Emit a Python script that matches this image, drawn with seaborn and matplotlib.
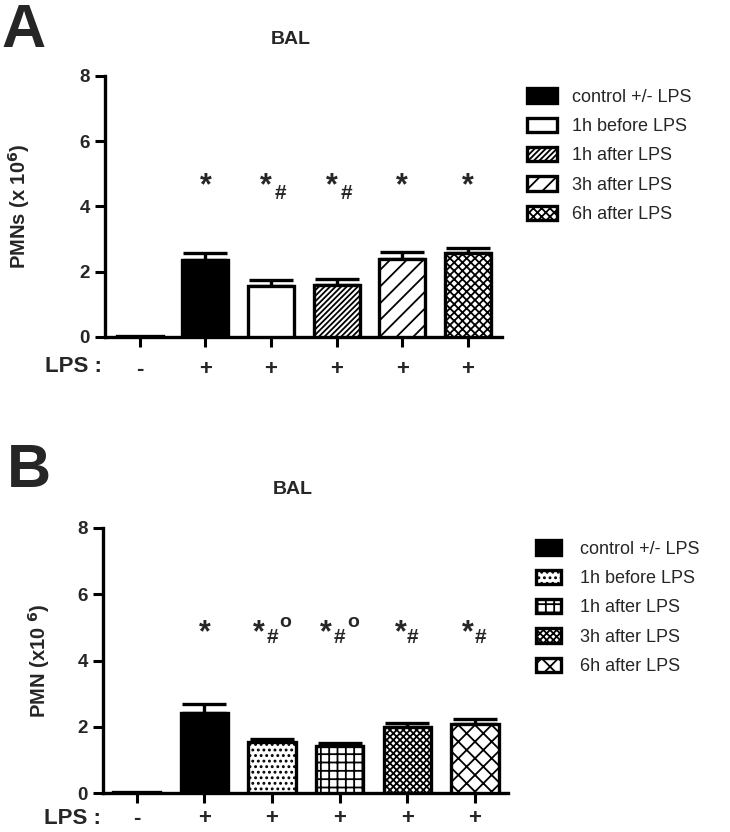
import numpy as np
import pandas as pd
import matplotlib
matplotlib.use("Agg")
import matplotlib.pyplot as plt
import seaborn as sns
from matplotlib.patches import Patch

# ---------------- data ----------------
groups = ["control -LPS", "control +LPS", "1h before LPS", "1h after LPS",
          "3h after LPS", "6h after LPS"]
lps_labels = ["-", "+", "+", "+", "+", "+"]
legend_labels = ["control +/- LPS", "1h before LPS", "1h after LPS",
                 "3h after LPS", "6h after LPS"]

a_means = [0.02, 2.35, 1.57, 1.59, 2.40, 2.57]
a_sem = [0.0, 0.22, 0.19, 0.20, 0.22, 0.15]
a_marks = ["", "*", "*#", "*#", "*", "*"]

b_means = [0.02, 2.41, 1.54, 1.41, 1.99, 2.08]
b_sem = [0.0, 0.29, 0.09, 0.09, 0.13, 0.16]
b_marks = ["", "*", "*#o", "*#o", "*#", "*#"]

y_ticks = [0, 2, 4, 6, 8]

# ---------------- style ----------------
sns.set_theme(style="white")
plt.rcParams["font.family"] = ["Liberation Sans", "DejaVu Sans"]
plt.rcParams["hatch.linewidth"] = 1.3
plt.rcParams["hatch.color"] = "black"

fig = plt.figure(figsize=(7.3, 8.32), dpi=100)
W, H = 730, 832


def px_axes(l, t, r, b):
    return fig.add_axes([l / W, 1 - b / H, (r - l) / W, (b - t) / H])


axA = px_axes(105, 76, 502, 337)
axB = px_axes(103, 528, 508, 793)

fc = ["black", "black", "white", "white", "white", "white"]
hatchA = ["", "", "", "//////", "//", "xxxx"]
hatchB = ["", "", "...", "++", "xxxxx", "xx"]


def draw_panel(ax, means, sem, hatches, ylabel, xlim, ylpad, xpad):
    df = pd.DataFrame({"group": groups, "value": means})
    sns.barplot(data=df, x="group", y="value", order=groups, color="black",
                width=0.7, errorbar=None, ax=ax, zorder=3)
    for p, f, h in zip(ax.patches, fc, hatches):
        p.set_facecolor(f)
        p.set_edgecolor("black")
        p.set_linewidth(2.4)
        p.set_hatch(h)
    idx = [i for i, s in enumerate(sem) if s > 0]
    ax.errorbar(idx, [means[i] for i in idx],
                yerr=[[0] * len(idx), [sem[i] for i in idx]],
                fmt="none", ecolor="black", elinewidth=2.4, capsize=16,
                capthick=2.4, zorder=2)
    ax.set_ylim(0, 8)
    ax.set_xlim(*xlim)
    ax.set_yticks(y_ticks)
    ax.set_yticklabels([str(t) for t in y_ticks], fontsize=13.5, fontweight="bold")
    ax.set_xticks(range(len(groups)))
    ax.set_xticklabels(lps_labels, fontsize=16, fontweight="bold")
    ax.set_xlabel("")
    ax.set_ylabel(ylabel, fontsize=14.5, fontweight="bold", labelpad=ylpad)
    for s in ["top", "right"]:
        ax.spines[s].set_visible(False)
    for s in ["left", "bottom"]:
        ax.spines[s].set_linewidth(2.4)
        ax.spines[s].set_color("black")
    ax.tick_params(axis="both", direction="out", length=7, width=2.2,
                   color="black", left=True, bottom=True)
    ax.tick_params(axis="x", pad=xpad)
    ax.tick_params(axis="y", pad=4)


draw_panel(axA, a_means, a_sem, hatchA, r"PMNs (x 10$^{\mathbf{6}}$)",
           (-0.53, 5.52), 34, 9)
draw_panel(axB, b_means, b_sem, hatchB, r"PMN (x10 $^{\mathbf{6}}$)",
           (-0.5, 5.49), 18, 4)

# significance marks
for i, m in enumerate(a_marks):
    if m == "*":
        axA.text(i, 4.62, "*", ha="center", va="center", fontsize=22, fontweight="bold")
    elif m == "*#":
        axA.text(i - 0.08, 4.62, "*", ha="center", va="center", fontsize=22, fontweight="bold")
        axA.text(i + 0.15, 4.4, "#", ha="center", va="center", fontsize=15, fontweight="bold")

for i, m in enumerate(b_marks):
    if m == "*":
        axB.text(i, 4.83, "*", ha="center", va="center", fontsize=22, fontweight="bold")
    elif m == "*#o":
        axB.text(i - 0.2, 4.83, "*", ha="center", va="center", fontsize=22, fontweight="bold")
        axB.text(i, 4.68, "#", ha="center", va="center", fontsize=15, fontweight="bold")
        axB.text(i + 0.2, 5.15, "o", ha="center", va="center", fontsize=14, fontweight="bold")
    elif m == "*#":
        axB.text(i - 0.1, 4.83, "*", ha="center", va="center", fontsize=22, fontweight="bold")
        axB.text(i + 0.08, 4.68, "#", ha="center", va="center", fontsize=15, fontweight="bold")

# LPS row labels
axA.text(-0.151, -0.112, "LPS :", transform=axA.transAxes, ha="left", va="center",
         fontsize=16, fontweight="bold")
axB.text(-0.145, -0.097, "LPS :", transform=axB.transAxes, ha="left", va="center",
         fontsize=16, fontweight="bold")

# titles and panel letters
fig.text(291 / W, 1 - 40 / H, "BAL", ha="center", va="center", fontsize=14, fontweight="bold")
fig.text(293 / W, 1 - 490 / H, "BAL", ha="center", va="center", fontsize=14, fontweight="bold")
fig.text(1 / W, 1 - 47 / H, "A", ha="left", va="baseline", fontsize=44, fontweight="bold")
fig.text(7 / W, 1 - 487 / H, "B", ha="left", va="baseline", fontsize=44, fontweight="bold")


# legends
def legend(ax, hatches, x, y, hl, pad):
    handles = [Patch(facecolor=fc[i + 1], edgecolor="black", linewidth=2.4,
                     hatch=hatches[i + 1], label=legend_labels[i]) for i in range(5)]
    ax.legend(handles=handles, loc="upper left", bbox_to_anchor=(x / W, 1 - y / H),
              bbox_transform=fig.transFigure, frameon=False, fontsize=13,
              handlelength=hl, handleheight=0.85, handletextpad=pad,
              labelspacing=0.66, borderaxespad=0)


legend(axA, hatchA, 520, 81, 1.65, 0.85)
legend(axB, hatchB, 529, 533, 1.35, 1.1)

fig.savefig("out.png", dpi=100)
